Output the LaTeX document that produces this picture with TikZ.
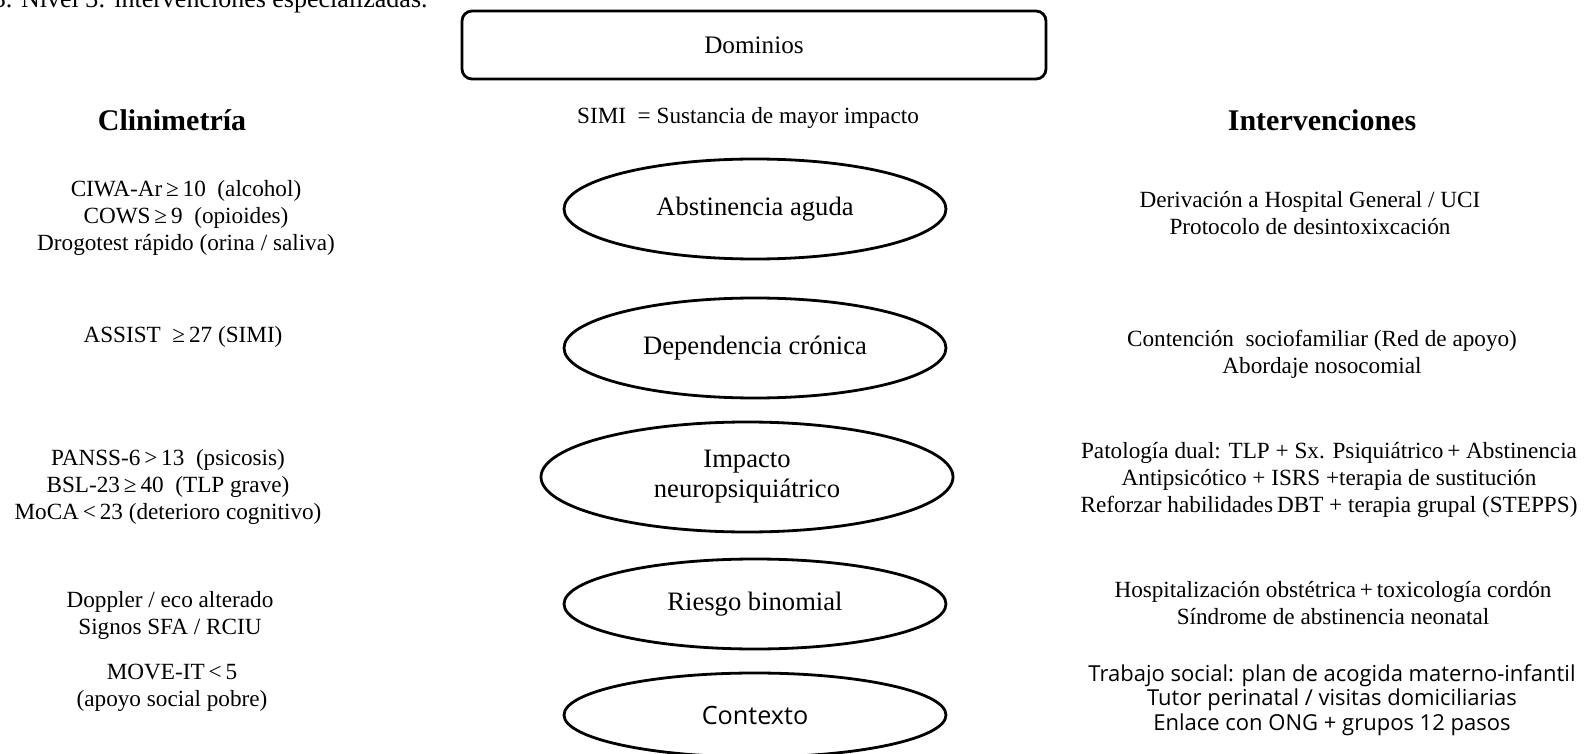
\documentclass[tikz,border=0pt]{standalone}
\usepackage{fontspec}
\setmainfont{Liberation Serif}
\newfontfamily\uifont{Open Sans}
\usetikzlibrary{shapes.geometric,positioning}
\tikzset{
  domain/.style={ellipse, draw=black, line width=1.4pt, minimum width=191pt,
    minimum height=#1, inner sep=0pt, align=center,
    font=\fontsize{13.3}{15}\selectfont},
  domain/.default=50pt,
  dombox/.style={rectangle, draw=black, line width=1.4pt, rounded corners=5pt,
    minimum width=292pt, minimum height=34pt, font=\fontsize{12.6}{14}\selectfont},
  crit/.style={align=center, inner sep=0pt, font=\fontsize{11.6}{13.5}\selectfont},
  sanscrit/.style={align=center, inner sep=0pt, font=\uifont\fontsize{11}{12.2}\selectfont},
  head/.style={inner sep=0pt, font=\fontsize{15}{17}\selectfont\bfseries},
}

\begin{document}
\begin{tikzpicture}[x=0.5pt,y=-0.5pt]
  \clip (0,0) rectangle (1585,754);

  % caption, cut by the page edge
  \node[anchor=base east, inner sep=0pt, font=\fontsize{13}{15}\selectfont]
    (cap) at (428,8) {3. Nivel 3: intervenciones especializadas.};

  \node[dombox] (dom) at (754,45) {Dominios};
  \node[crit] (simi) at (748,118) {SIMI \ = Sustancia de mayor impacto};
  \node[head] (clin) at (172,120) {Clinimetría};
  \node[head] (intv) at (1322,120) {Intervenciones};

  % domains
  \node[domain=50pt] (abst) at (755,209) {Abstinencia aguda};
  \node[domain=50pt] (depe) at (755,348) {Dependencia crónica};
  \node[domain=55pt, minimum width=206pt] (neuro) at (747,477) {Impacto\\neuropsiquiátrico};
  \node[domain=45pt] (binom) at (755,604) {Riesgo binomial};
  \node[domain=42pt, font=\uifont\fontsize{12.6}{14}\selectfont] (ctx) at (755,715) {Contexto};

  % clinimetria
  \node[crit] (c1) at (186,218) {CIWA-Ar\,≥\,10 \ (alcohol)\\COWS\,≥\,9 \ (opioides)\\Drogotest rápido (orina / saliva)};
  \node[crit] (c2) at (183,337) {ASSIST \ ≥\,27 (SIMI)};
  \node[crit] (c3) at (168,487) {PANSS-6\,>\,13 \ (psicosis)\\BSL-23\,≥\,40 \ (TLP grave)\\MoCA\,<\,23 (deterioro cognitivo)};
  \node[crit] (c4) at (170,615) {Doppler / eco alterado\\Signos SFA / RCIU};
  \node[crit] (c5) at (172,688) {MOVE-IT\,<\,5\\(apoyo social pobre)};

  % intervenciones
  \node[crit] (i1) at (1310,213) {Derivación a Hospital General / UCI\\Protocolo de desintoxixcación};
  \node[crit] (i2) at (1322,354) {Contención \ sociofamiliar (Red de apoyo)\\Abordaje nosocomial};
  \node[crit] (i3) at (1329,480) {Patología dual: TLP + Sx. Psiquiátrico\,+ Abstinencia\\Antipsicótico + ISRS +terapia de sustitución\\Reforzar habilidades\,DBT + terapia grupal (STEPPS)};
  \node[crit] (i4) at (1333,603) {Hospitalización obstétrica\,+\,toxicología cordón\\Síndrome de abstinencia neonatal};
  \node[sanscrit] (i5) at (1332,700) {Trabajo social: plan de acogida materno-infantil\\Tutor perinatal / visitas domiciliarias\\Enlace con ONG + grupos 12 pasos};
\end{tikzpicture}
\end{document}
